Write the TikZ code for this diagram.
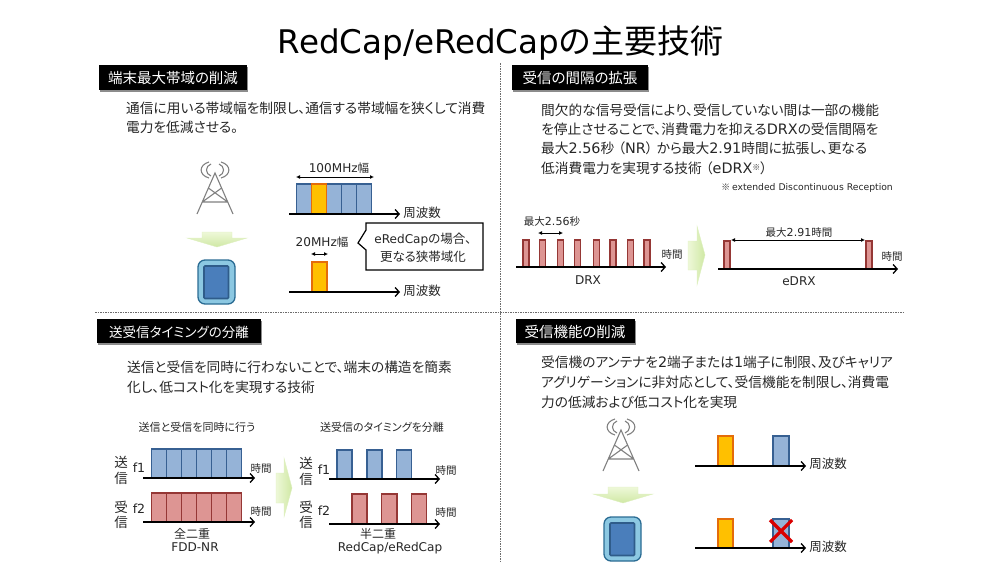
\documentclass[tikz,border=0pt]{standalone}
\usepackage{fontspec}
\setmainfont[RawFeature={+palt}]{Noto Sans CJK JP}
\newfontfamily\latfont[Scale=1.05]{DejaVu Sans}
\newcommand{\ltn}[1]{{\latfont #1}}
\usetikzlibrary{arrows.meta,shadows}
\definecolor{inkgray}{HTML}{262626}
\definecolor{bluefill}{HTML}{95B3D7}
\definecolor{blueedge}{HTML}{376092}
\definecolor{orangefill}{HTML}{FFC000}
\definecolor{orangeedge}{HTML}{E46C0A}
\definecolor{redfill}{HTML}{DD9593}
\definecolor{rededge}{HTML}{953735}
\definecolor{towergray}{HTML}{808080}
\definecolor{devouter}{HTML}{8CC8E2}
\definecolor{devouteredge}{HTML}{2B6C93}
\definecolor{devinner}{HTML}{4A7EBB}
\definecolor{devinneredge}{HTML}{2F5C8A}
\definecolor{greenpale}{HTML}{EEF8D8}
\definecolor{greendeep}{HTML}{CFE8A4}
\newcommand{\fsz}[1]{\fontsize{#1}{#1}\selectfont}
\tikzset{
  x=1pt,y=-1pt,
  txt/.style={inner sep=0pt,text=inkgray,font=\fsz{#1}},
  txt/.default=12,
  bodytext/.style={inner sep=0pt,anchor=west,align=left,text=inkgray,font=\fontsize{13.7}{#1}\selectfont},
  headbar/.style={draw=none,fill=black,text=white,inner sep=0pt,
    drop shadow={shadow xshift=1pt,shadow yshift=-2pt,opacity=.45,fill=black}},
  headtext/.style={inner sep=0pt,text=white,font=\fsz{#1}},
  headtext/.default=14.5,
  rule/.style={draw=gray!85!black,line width=.8pt,dash pattern=on 1.5pt off 1pt},
  axis/.style={draw=black,line width=1.3pt,-{Straight Barb[length=4pt,width=9pt]}},
  span/.style={draw=black,line width=.9pt,{Latex[length=4pt,width=4pt]}-{Latex[length=4pt,width=4pt]}},
  bluecell/.style={fill=bluefill,draw=blueedge,line width=1.1pt},
  orangecell/.style={fill=orangefill,draw=orangeedge,line width=1.1pt},
  redcell/.style={fill=redfill,draw=rededge,line width=1.1pt},
  flowdown/.style={draw=greendeep!70,line width=.4pt,top color=greenpale,bottom color=greendeep},
  flowright/.style={draw=greendeep!70,line width=.4pt,left color=greenpale,right color=greendeep},
  tower/.pic={
    \draw[towergray,line width=1.1pt] (-18,41) -- (0,0) -- (18,41)
      (-12.7,29) -- (12.7,29)
      (-6.6,15) -- (12.7,29) (6.6,15) -- (-12.7,29);
    \draw[towergray,line width=1.1pt]
      (-4,-9) .. controls (-10,-7) and (-10,1) .. (-4,3)
      (4,-9) .. controls (10,-7) and (10,1) .. (4,3)
      (-6,-11) .. controls (-16.5,-8) and (-16.5,2) .. (-6,5)
      (6,-11) .. controls (16.5,-8) and (16.5,2) .. (6,5);
  },
  handset/.pic={
    \draw[fill=devouter,draw=devouteredge,line width=1.3pt,rounded corners=7pt] (-18.5,0) rectangle (18.5,44);
    \draw[fill=devinner,draw=devinneredge,line width=1.6pt,rounded corners=1pt] (-12.5,6) rectangle (12,38.5);
  }
}
\begin{document}
\begin{tikzpicture}
\useasboundingbox (0,0) rectangle (1000,562);

% Title and panel separators
\node[inner sep=0pt,text=black,font=\fsz{33}] (title) at (500.5,43) {{\fontsize{31}{31}\latfont RedCap/eRedCap}の主要技術};
\draw[rule] (500,63) -- (500,562);
\draw[rule] (95,312) -- (905,312);

% Panel headers
\path[headbar] (99,65) rectangle (247,90);
\node[headtext] (head1) at (173,78) {端末最大帯域の削減};
\path[headbar] (512,65) rectangle (648,90);
\node[headtext] (head2) at (580,78) {受信の間隔の拡張};
\path[headbar] (97,319) rectangle (261,343);
\node[headtext=13.5] (head3) at (179,332) {送受信タイミングの分離};
\path[headbar] (516,319) rectangle (635,343);
\node[headtext] (head4) at (575,332) {受信機能の削減};

% Panel descriptions
\node[bodytext=19] (body1) at (126,117.5) {通信に用いる帯域幅を制限し、通信する帯域幅を狭くして消費\\電力を低減させる。};
\node[bodytext=19.4] (body2) at (541,139) {間欠的な信号受信により、受信していない間は一部の機能\\を停止させることで、消費電力を抑える\ltn{DRX}の受信間隔を\\最大\ltn{2.56}秒\hspace{4pt}（\ltn{NR}）\hspace{4pt}から最大\ltn{2.91}時間に拡張し、更なる\\低消費電力を実現する技術\hspace{4pt}（\ltn{eDRX}\raisebox{3pt}{\fsz{8}※}）};
\node[bodytext=20] (body3) at (127,377) {送信と受信を同時に行わないことで、端末の構造を簡素\\化し、低コスト化を実現する技術};
\node[bodytext=20] (body4) at (541,382) {受信機のアンテナを\ltn{2}端子または\ltn{1}端子に制限、及びキャリア\\アグリゲーションに非対応として、受信機能を制限し、消費電\\力の低減および低コスト化を実現};

% Bandwidth panel: base station, flow arrow, terminal
\pic at (215,173) {tower};
\path[flowdown] (202,232) -- (232,232) -- (232,238) -- (247,238) -- (217,247) -- (187,238) -- (202,238) -- cycle;
\pic at (216.5,260) {handset};

% Bandwidth panel: 100 MHz carrier
\foreach \xa/\xb in {296.7/311.7,326.7/341.7,341.7/356.7,356.7/371.7}
  \draw[bluecell] (\xa,184) rectangle (\xb,214);
\draw[orangecell] (311.7,184) rectangle (326.7,214);
\draw[axis] (289,214) -- (400,214);
\node[txt=12.5] (freq1) at (422,213) {周波数};
\node[txt=11.5] (w100) at (339,168) {\ltn{100MHz}幅};
\draw[span] (296,177) -- (374,177);

% Bandwidth panel: 20 MHz carrier
\node[txt=11.5] (w20) at (322,242) {\ltn{20MHz}幅};
\draw[span] (311,254) -- (328,254);
\draw[orangecell] (312,262) rectangle (327,292);
\draw[axis] (289,292) -- (400,292);
\node[txt=12.5] (freq2) at (422,291) {周波数};
\draw[fill=white,draw=black,line width=1.2pt] (366,223) -- (483,223) -- (483,270) -- (366,270) -- (366,250) -- (358,243) -- (366,230) -- cycle;
\node[txt=12.5,align=center] (callout) at (423,248) {{\fontsize{11.5}{11.5}\latfont eRedCap}の場合、\\[3.5pt]更なる狭帯域化};

% Reception interval panel: DRX
\node[inner sep=0pt,text=inkgray,font=\fsz{8.8},anchor=east] (note) at (893,188) {※ \ltn{extended Discontinuous Reception}};
\foreach \c in {526,542.7,560.3,577.7,596.3,613,630.3,647}
  \draw[redcell] (\c-3,240) rectangle (\c+3,267);
\draw[axis] (516,267) -- (666,267);
\node[txt=10.5] (t1) at (672,255) {時間};
\node[txt=11.5] (drx) at (588,280) {\ltn{DRX}};
\node[txt=10.5] (max256) at (552,222) {最大\ltn{2.56}秒};
\draw[span] (538,233) -- (563,233);
\path[flowright] (688,241) -- (697,241) -- (697,226) -- (705,255) -- (697,285) -- (697,270) -- (688,270) -- cycle;

% Reception interval panel: eDRX
\draw[redcell] (724,241) rectangle (730,269);
\draw[redcell] (866,241) rectangle (872,269);
\draw[axis] (718,269) -- (898,269);
\node[txt=10.5] (t2) at (892,257) {時間};
\node[txt=11.5] (edrx) at (799,281) {\ltn{eDRX}};
\node[txt=10.5] (max291) at (799,233) {最大\ltn{2.91}時間};
\draw[span] (731,240) -- (865,240);

% Timing panel: full duplex
\node[txt=11] (cap1) at (197,427) {送信と受信を同時に行う};
\node[txt=13.5] (s1a) at (121,462) {送};
\node[txt=13.5] (s1b) at (121,478) {信};
\node[txt=12] (f1a) at (139,468) {\ltn{f1}};
\node[txt=13.5] (r1a) at (121,507) {受};
\node[txt=13.5] (r1b) at (121,522) {信};
\node[txt=12] (f2a) at (139,509) {\ltn{f2}};
\foreach \xa/\xb in {151.3/166.3,166.3/181.7,181.7/196.7,196.7/211.7,211.7/226.3,226.3/241.3} {
  \draw[bluecell] (\xa,449) rectangle (\xb,478);
  \draw[redcell] (\xa,493) rectangle (\xb,522);
}
\draw[axis] (143,478) -- (255,478);
\draw[axis] (143,522) -- (255,522);
\node[txt=10.5] (t3) at (261,469) {時間};
\node[txt=10.5] (t4) at (261,512) {時間};
\node[txt=12] (full) at (192,534) {全二重};
\node[txt=11.5] (fdd) at (195,547) {\ltn{FDD-NR}};
\path[flowright] (276,473) -- (284,473) -- (284,458) -- (292,488) -- (284,517) -- (284,503) -- (276,503) -- cycle;

% Timing panel: half duplex
\node[txt=11] (cap2) at (382,427) {送受信のタイミングを分離};
\node[txt=13.5] (s2a) at (306,463) {送};
\node[txt=13.5] (s2b) at (306,479) {信};
\node[txt=12] (f1b) at (324,470) {\ltn{f1}};
\node[txt=13.5] (r2a) at (306,507) {受};
\node[txt=13.5] (r2b) at (306,522) {信};
\node[txt=12] (f2b) at (324,511) {\ltn{f2}};
\foreach \xa/\xb in {337/352,367/382,396.3/411.7}
  \draw[bluecell] (\xa,450) rectangle (\xb,479);
\foreach \xa/\xb in {352/367,381.7/397,411.3/426.7}
  \draw[redcell] (\xa,494) rectangle (\xb,524);
\draw[axis] (329,479) -- (440,479);
\draw[axis] (329,524) -- (440,524);
\node[txt=10.5] (t5) at (446,471) {時間};
\node[txt=10.5] (t6) at (446,513) {時間};
\node[txt=12] (half) at (378,534) {半二重};
\node[txt=11.5] (rc) at (390,548) {\ltn{RedCap/eRedCap}};

% Reception function panel
\pic at (621,430) {tower};
\path[flowdown] (608,487) -- (638,487) -- (638,494) -- (653,494) -- (623,503) -- (593,494) -- (608,494) -- cycle;
\pic at (622.5,517) {handset};
\draw[orangecell] (718,436) rectangle (733,466);
\draw[bluecell] (773,436) rectangle (789,466);
\draw[axis] (695,466) -- (806,466);
\node[txt=12.5] (freq3) at (828,464) {周波数};
\draw[orangecell] (718,519) rectangle (733,548);
\draw[bluecell] (773,519) rectangle (789,548);
\draw[axis] (695,548) -- (806,548);
\node[txt=12.5] (freq4) at (828,547) {周波数};
\draw[draw=red!85!black,line width=3.2pt] (770,520) -- (792,542) (792,520) -- (770,542);
\end{tikzpicture}
\end{document}
